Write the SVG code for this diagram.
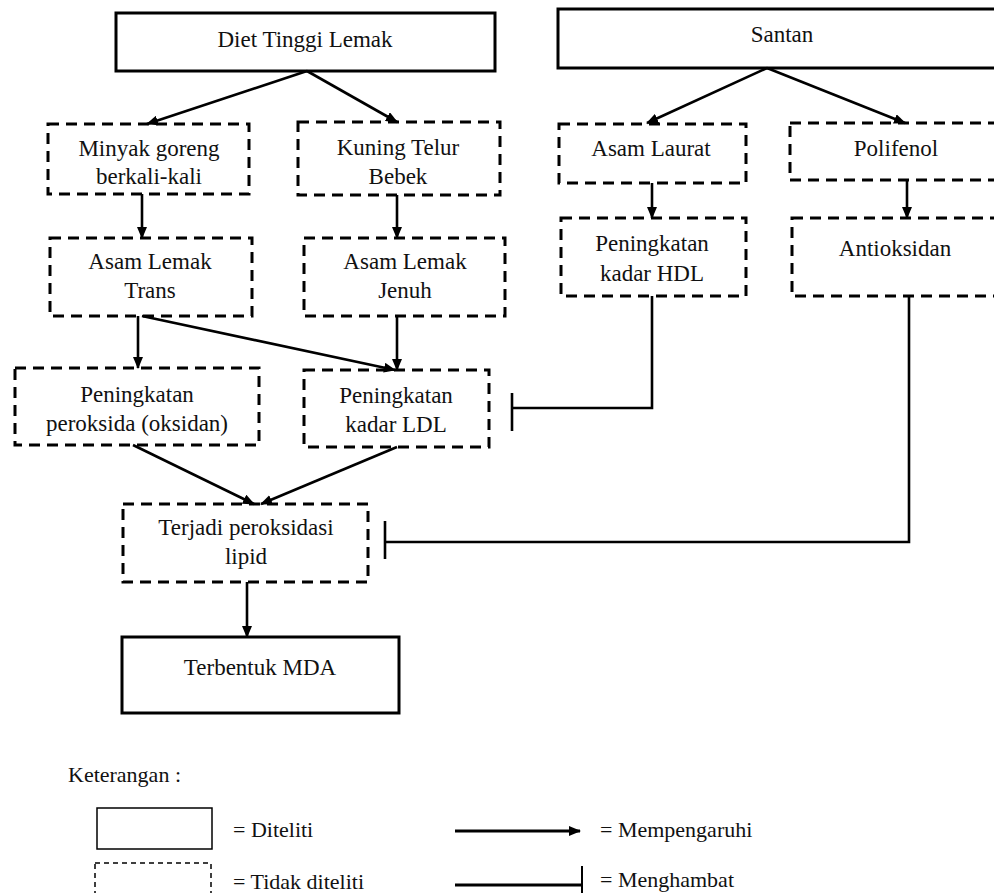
<svg xmlns="http://www.w3.org/2000/svg" width="994" height="893" viewBox="0 0 994 893">
<style>
.solid{fill:none;stroke:#000;stroke-width:3}
.dash{fill:none;stroke:#000;stroke-width:3;stroke-dasharray:11 7}
.t{font-family:'Liberation Serif','Times New Roman','DejaVu Serif',serif;font-size:23px;fill:#111;text-anchor:middle}
.lt{font-family:'Liberation Serif','Times New Roman','DejaVu Serif',serif;font-size:22px;fill:#111}
.c{fill:none;stroke:#000;stroke-width:2.6}
</style>
<defs>
<marker id="ah" markerUnits="userSpaceOnUse" markerWidth="12" markerHeight="10" refX="11" refY="5" orient="auto">
<path d="M0,0 L12,5 L0,10 z" fill="#000"/>
</marker>
</defs>
<rect width="994" height="893" fill="#fff"/>

<g id="diet"><rect class="solid" x="116" y="13" width="379" height="58"/><text class="t" x="305" y="47">Diet Tinggi Lemak</text></g>
<g id="santan"><rect class="solid" x="558" y="9" width="450" height="59"/><text class="t" x="782" y="42">Santan</text></g>
<g id="minyak"><rect class="dash" x="48" y="124" width="201" height="70"/><text class="t" x="149" y="156">Minyak goreng</text><text class="t" x="149" y="184">berkali-kali</text></g>
<g id="kuning"><rect class="dash" x="298" y="122" width="202" height="73"/><text class="t" x="398" y="155">Kuning Telur</text><text class="t" x="398" y="184">Bebek</text></g>
<g id="laurat"><rect class="dash" x="559" y="124" width="187" height="59"/><text class="t" x="651" y="156">Asam Laurat</text></g>
<g id="polifenol"><rect class="dash" x="790" y="123" width="220" height="57"/><text class="t" x="896" y="156">Polifenol</text></g>
<g id="trans"><rect class="dash" x="50" y="238" width="202" height="78"/><text class="t" x="150" y="269">Asam Lemak</text><text class="t" x="150" y="298">Trans</text></g>
<g id="jenuh"><rect class="dash" x="304" y="238" width="201" height="78"/><text class="t" x="405" y="269">Asam Lemak</text><text class="t" x="405" y="298">Jenuh</text></g>
<g id="hdl"><rect class="dash" x="561" y="218" width="185" height="78"/><text class="t" x="652" y="251">Peningkatan</text><text class="t" x="652" y="281">kadar HDL</text></g>
<g id="antioksidan"><rect class="dash" x="792" y="218" width="220" height="78"/><text class="t" x="895" y="256">Antioksidan</text></g>
<g id="peroksida"><rect class="dash" x="15" y="368" width="244" height="77"/><text class="t" x="137" y="402">Peningkatan</text><text class="t" x="137" y="431">peroksida (oksidan)</text></g>
<g id="ldl"><rect class="dash" x="304" y="370" width="185" height="77"/><text class="t" x="396" y="403">Peningkatan</text><text class="t" x="396" y="432">kadar LDL</text></g>
<g id="lipid"><rect class="dash" x="123" y="504" width="245" height="78"/><text class="t" x="246" y="535">Terjadi peroksidasi</text><text class="t" x="246" y="564">lipid</text></g>
<g id="mda"><rect class="solid" x="122" y="637" width="277" height="76"/><text class="t" x="260" y="675">Terbentuk MDA</text></g>

<g id="connectors">
<line class="c" x1="307" y1="71" x2="147" y2="124" marker-end="url(#ah)"/>
<line class="c" x1="307" y1="71" x2="397" y2="122" marker-end="url(#ah)"/>
<line class="c" x1="767" y1="68" x2="647" y2="123" marker-end="url(#ah)"/>
<line class="c" x1="767" y1="68" x2="905" y2="123" marker-end="url(#ah)"/>
<line class="c" x1="142" y1="194" x2="142" y2="238" marker-end="url(#ah)"/>
<line class="c" x1="397" y1="195" x2="397" y2="238" marker-end="url(#ah)"/>
<line class="c" x1="652" y1="183" x2="652" y2="218" marker-end="url(#ah)"/>
<line class="c" x1="907" y1="180" x2="907" y2="218" marker-end="url(#ah)"/>
<line class="c" x1="138" y1="316" x2="138" y2="368" marker-end="url(#ah)"/>
<line class="c" x1="142" y1="316" x2="395" y2="370" marker-end="url(#ah)"/>
<line class="c" x1="397" y1="316" x2="397" y2="370" marker-end="url(#ah)"/>
<line class="c" x1="133" y1="445" x2="254" y2="504" marker-end="url(#ah)"/>
<line class="c" x1="397" y1="447" x2="261" y2="504" marker-end="url(#ah)"/>
<line class="c" x1="247" y1="582" x2="247" y2="637" marker-end="url(#ah)"/>
<polyline class="c" points="652,296 652,408 512,408"/>
<line class="c" x1="512" y1="393" x2="512" y2="431"/>
<polyline class="c" points="909,296 909,542 385,542"/>
<line class="c" x1="385" y1="521" x2="385" y2="559"/>
</g>

<g id="legend">
<text class="lt" x="68" y="782">Keterangan :</text>
<rect x="97" y="808" width="115" height="41" fill="none" stroke="#000" stroke-width="1.5"/>
<text class="lt" x="233" y="837">= Diteliti</text>
<rect x="95" y="863" width="116" height="40" fill="none" stroke="#000" stroke-width="1.5" stroke-dasharray="5 4"/>
<text class="lt" x="233" y="889">= Tidak diteliti</text>
<line x1="455" y1="831" x2="580" y2="831" stroke="#000" stroke-width="3" marker-end="url(#ah)"/>
<text class="lt" x="600" y="837">= Mempengaruhi</text>
<line x1="455" y1="885" x2="582" y2="885" stroke="#000" stroke-width="3"/>
<line x1="582" y1="866" x2="582" y2="893" stroke="#000" stroke-width="2"/>
<text class="lt" x="600" y="887">= Menghambat</text>
</g>
</svg>
